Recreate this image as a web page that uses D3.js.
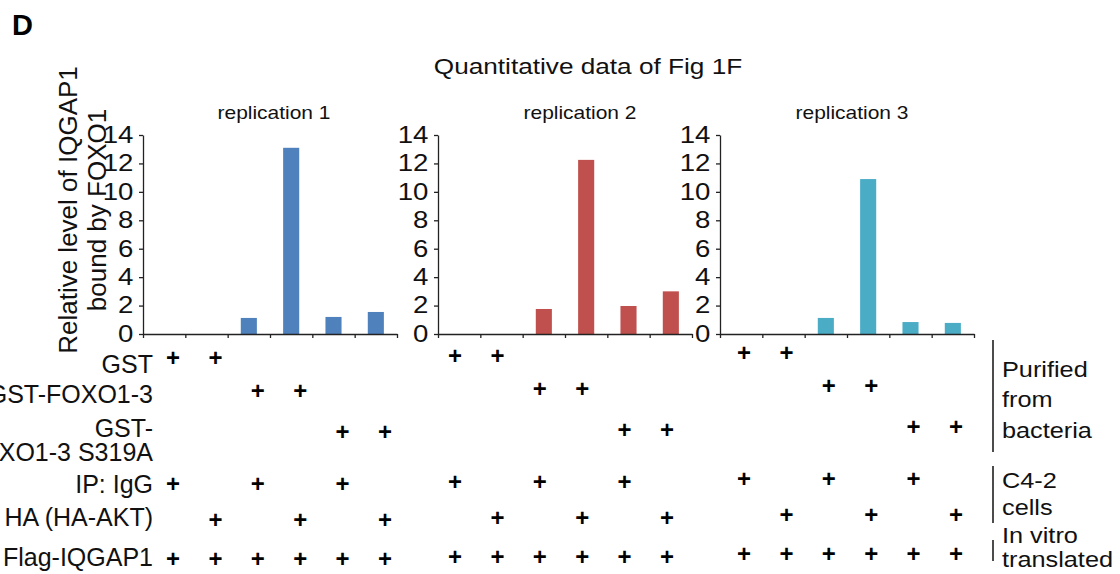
<!DOCTYPE html>
<html>
<head>
<meta charset="utf-8">
<script src="https://cdn.jsdelivr.net/npm/d3@7"></script>
<style>
  body { margin: 0; background: #fff; }
  svg { display: block; font-family: "Liberation Sans", Arial, sans-serif; }
</style>
</head>
<body>
<div id="chart-area"></div>
<script>
// values
var replications = ["replication 1", "replication 2", "replication 3"];
var lanes = [1, 2, 3, 4, 5, 6];
var rep1 = [0, 0, 1.13, 13.1, 1.2, 1.55];
var rep2 = [0, 0, 1.76, 12.25, 1.97, 3.0];
var rep3 = [0, 0, 1.13, 10.9, 0.84, 0.78];
var yTicks = [0, 2, 4, 6, 8, 10, 12, 14];
var colors = ["#4f81bd", "#c0504d", "#4bacc6"];

var rowLabels = [["GST"], ["GST-FOXO1-3"], ["GST-", "FOXO1-3 S319A"], ["IP: IgG"], ["HA (HA-AKT)"], ["Flag-IQGAP1"]];
var rowPlus = [
    [1, 1, 0, 0, 0, 0],
    [0, 0, 1, 1, 0, 0],
    [0, 0, 0, 0, 1, 1],
    [1, 0, 1, 0, 1, 0],
    [0, 1, 0, 1, 0, 1],
    [1, 1, 1, 1, 1, 1]
];
var groups = [["Purified", "from", "bacteria"], ["C4-2", "cells"], ["In vitro", "translated"]];

// layout
var w = 1120, h = 574;
var panelX = [143, 438, 720];
var panelW = 254;
var yTop = 135, yBase = 334;
var titleX = [274, 580, 852];
var plusX0 = [30, 17, 24], plusW = 212, plusDy = [0, -2, -5];
var rowY = [358, 391, 432, 484, 520, 559];
var labelY = [[373], [403], [437, 461], [493], [526], [566]];
var groupSpan = [[340, 452], [466, 523], [540, 561]];
var groupY = [[377, 407, 438], [488, 515], [543, 567]];

var svg = d3.select("#chart-area").append("svg")
    .attr("width", w)
    .attr("height", h);

svg.append("rect").attr("width", w).attr("height", h).attr("fill", "#fff");

svg.append("text")
    .attr("x", 12).attr("y", 35)
    .attr("font-size", "29px")
    .attr("font-weight", "bold")
    .text("D");

svg.append("text")
    .attr("transform", "translate(588, 74) scale(1.19, 1)")
    .attr("text-anchor", "middle")
    .attr("font-size", "22px")
    .attr("fill", "#111")
    .text("Quantitative data of Fig 1F");

// y axis title, two lines
var yTitle = svg.append("text")
    .attr("transform", "rotate(-90)")
    .attr("text-anchor", "middle")
    .attr("font-size", "26px")
    .attr("fill", "#111");
yTitle.append("tspan").attr("x", -210).attr("y", 77).text("Relative level of IQGAP1");
yTitle.append("tspan").attr("x", -210).attr("y", 106).text("bound by FOXO1");

var y = d3.scaleLinear()
    .domain([0, 14])
    .range([yBase, yTop]);

var x = d3.scaleBand()
    .domain(lanes)
    .range([0, panelW])
    .paddingInner(0.62)
    .paddingOuter(0.31);

var xEdge = d3.scaleLinear().domain([0, lanes.length]).range([0, panelW]);

var plusX = d3.scalePoint().domain(lanes).range([0, plusW]);

[rep1, rep2, rep3].forEach((vals, p) => {
    var g = svg.append("g")
        .attr("transform", "translate(" + panelX[p] + ", 0)");

    g.selectAll("rect.bar")
        .data(vals)
        .enter()
        .append("rect")
            .attr("class", "bar")
            .attr("x", (d, i) => x(lanes[i]))
            .attr("y", (d) => y(d))
            .attr("width", x.bandwidth())
            .attr("height", (d) => yBase - y(d))
            .attr("fill", colors[p]);

    var left = d3.axisLeft(y).tickValues(yTicks).tickSize(4).tickSizeOuter(0).tickPadding(4);
    var ax = g.append("g").attr("class", "left axis").call(left);
    ax.selectAll("text")
        .attr("font-size", "23px")
        .attr("fill", "#111")
        .attr("font-family", "Liberation Sans, Arial, sans-serif")
        .attr("transform", "scale(1.2, 1)");

    var bottom = d3.axisBottom(xEdge).ticks(lanes.length).tickSize(4).tickSizeOuter(0).tickFormat("");
    g.append("g").attr("class", "bottom axis")
        .attr("transform", "translate(0, " + yBase + ")")
        .call(bottom);

    g.selectAll(".axis path, .axis line").attr("stroke", "#222").attr("stroke-width", 1.3);

    svg.append("text")
        .attr("transform", "translate(" + titleX[p] + ", 119) scale(1.165, 1)")
        .attr("text-anchor", "middle")
        .attr("font-size", "18px")
        .attr("fill", "#111")
        .text(replications[p]);

    // + table under the panel
    rowPlus.forEach((row, r) => {
        var cols = lanes.filter((l, i) => row[i] === 1);
        g.selectAll("text.plus-" + r)
            .data(cols)
            .enter()
            .append("text")
                .attr("class", "plus-" + r)
                .attr("x", (d) => plusX0[p] + plusX(d))
                .attr("y", rowY[r] + plusDy[p] + 8)
                .attr("text-anchor", "middle")
                .attr("font-size", "24px")
                .attr("font-weight", "bold")
                .text("+");
    });
});

// row labels on the left
rowLabels.forEach((lines, r) => {
    lines.forEach((t, k) => {
        svg.append("text")
            .attr("x", 153)
            .attr("y", labelY[r][k])
            .attr("text-anchor", "end")
            .attr("font-size", "25px")
            .attr("fill", "#111")
            .text(t);
    });
});

// brackets and group labels on the right
groups.forEach((lines, k) => {
    svg.append("line")
        .attr("x1", 993).attr("x2", 993)
        .attr("y1", groupSpan[k][0]).attr("y2", groupSpan[k][1])
        .attr("stroke", "#111")
        .attr("stroke-width", 1.5);
    lines.forEach((t, j) => {
        svg.append("text")
            .attr("transform", "translate(1002, " + groupY[k][j] + ") scale(1.15, 1)")
            .attr("font-size", "22px")
            .attr("fill", "#111")
            .text(t);
    });
});
</script>
</body>
</html>
